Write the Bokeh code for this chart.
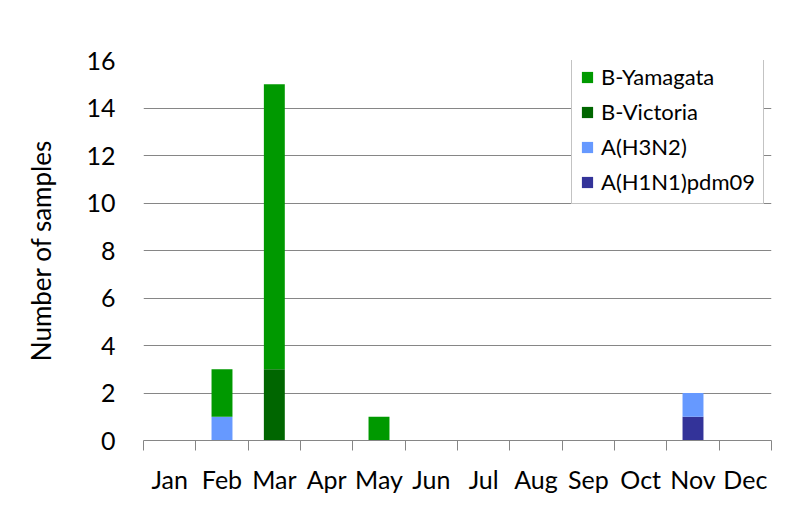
from bokeh.plotting import figure
from bokeh.models import FixedTicker, Legend, LegendItem, ColumnDataSource, Range1d
from bokeh.embed import file_html
from bokeh.resources import INLINE

months = ["Jan", "Feb", "Mar", "Apr", "May", "Jun", "Jul", "Aug", "Sep", "Oct", "Nov", "Dec"]
h1n1 = [0, 0, 0, 0, 0, 0, 0, 0, 0, 0, 1, 0]
h3n2 = [0, 1, 0, 0, 0, 0, 0, 0, 0, 0, 1, 0]
bvic = [0, 0, 3, 0, 0, 0, 0, 0, 0, 0, 0, 0]
byam = [0, 2, 12, 0, 1, 0, 0, 0, 0, 0, 0, 0]
series = ["A(H1N1)pdm09", "A(H3N2)", "B-Victoria", "B-Yamagata"]
colors = ["#333399", "#6699FF", "#006600", "#009900"]
y_ticks = [0, 2, 4, 6, 8, 10, 12, 14, 16]

xpos = [i + 0.5 for i in range(len(months))]
src = ColumnDataSource(dict(x=xpos, **{series[0]: h1n1, series[1]: h3n2, series[2]: bvic, series[3]: byam}))

FONT = "Lato"

p = figure(width=780, height=500, output_backend="svg", toolbar_location=None,
           x_range=Range1d(0, len(months)), y_range=Range1d(0, 16),
           min_border_left=143, min_border_right=9, min_border_top=60, min_border_bottom=60)
p.outline_line_color = None
p.background_fill_color = "white"
p.border_fill_color = "white"

renderers = p.vbar_stack(series, x="x", width=0.4, source=src, color=colors, line_color=None)

# x axis
p.xaxis.ticker = FixedTicker(ticks=xpos, minor_ticks=list(range(len(months) + 1)))
p.xaxis.major_label_overrides = {x: m for x, m in zip(xpos, months)}
p.xaxis.major_tick_line_color = None
p.xaxis.minor_tick_out = 10
p.xaxis.minor_tick_in = 0
p.xaxis.minor_tick_line_color = "#868686"
p.xaxis.axis_line_color = "#868686"
p.xaxis.major_label_standoff = 13
p.xaxis.major_label_text_font = FONT
p.xaxis.major_label_text_font_size = "25px"
p.xaxis.major_label_text_color = "black"
p.xgrid.grid_line_color = None

# y axis
p.yaxis.ticker = FixedTicker(ticks=y_ticks)
p.yaxis.axis_line_color = None
p.yaxis.major_tick_line_color = None
p.yaxis.minor_tick_line_color = None
p.yaxis.major_label_standoff = 22
p.yaxis.major_label_text_font = FONT
p.yaxis.major_label_text_font_size = "25px"
p.yaxis.major_label_text_color = "black"
p.yaxis.axis_label = "Number of samples"
p.yaxis.axis_label_text_font = FONT
p.yaxis.axis_label_text_font_size = "26px"
p.yaxis.axis_label_text_font_style = "normal"
p.yaxis.axis_label_text_color = "black"
p.yaxis.axis_label_standoff = 26
p.ygrid.grid_line_color = "#868686"
p.ygrid.grid_line_width = 1

items = [LegendItem(label=s, renderers=[r]) for s, r in zip(series, renderers)][::-1]
legend = Legend(items=items, location=(428, 236), orientation="vertical",
                label_text_font=FONT, label_text_font_size="22px", label_text_color="black",
                glyph_width=14, glyph_height=14, label_standoff=7, spacing=8,
                padding=8, margin=0, border_line_color="#888888", border_line_width=1,
                background_fill_color="white", background_fill_alpha=1.0)
p.add_layout(legend, "center")

open("out.html", "w").write(file_html(p, INLINE))
